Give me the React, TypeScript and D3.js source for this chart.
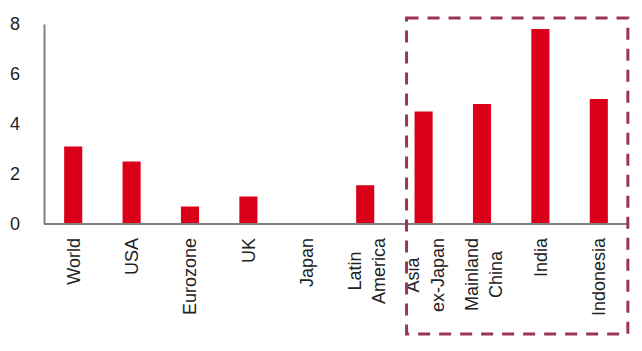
import React, { useRef, useEffect } from "react";
import * as d3 from "d3";

// category labels (one entry per line of the label)
const categories: string[][] = [
  ["World"],
  ["USA"],
  ["Eurozone"],
  ["UK"],
  ["Japan"],
  ["Latin", "America"],
  ["Asia", "ex-Japan"],
  ["Mainland", "China"],
  ["India"],
  ["Indonesia"],
];
const values = [3.1, 2.5, 0.7, 1.1, 0, 1.55, 4.5, 4.8, 7.8, 5.0];
const yTicks = [0, 2, 4, 6, 8];
const highlightFrom = "Asia ex-Japan";
const highlightTo = "Indonesia";

const W = 642;
const H = 351;

const App = () => {
  const svgRef = useRef<SVGSVGElement>(null);

  useEffect(() => {
    const svg = d3.select(svgRef.current);
    svg.selectAll("*").remove();

    const font = "'Liberation Sans', Arial, sans-serif";
    const names = categories.map((c) => c.join(" "));
    const data = names.map((name, i) => ({ name, lines: categories[i], value: values[i] }));

    const x = d3
      .scaleBand()
      .domain(names)
      .range([44, 628])
      .paddingInner(0.69)
      .paddingOuter(0.345);

    const y = d3.scaleLinear().domain([0, 8]).range([224, 24]);

    // bars
    svg
      .append("g")
      .selectAll("rect")
      .data(data)
      .enter()
      .append("rect")
      .attr("x", (d) => x(d.name)!)
      .attr("y", (d) => y(d.value))
      .attr("width", x.bandwidth())
      .attr("height", (d) => y(0) - y(d.value))
      .attr("fill", "#db0019");

    // y axis
    const yAxis = svg
      .append("g")
      .attr("transform", "translate(44,0)")
      .call(d3.axisLeft(y).tickValues(yTicks).tickSize(0).tickPadding(24).tickFormat(d3.format("d")));
    yAxis.select(".domain").attr("stroke", "#808080").attr("stroke-width", 2);
    yAxis
      .selectAll("text")
      .attr("font-family", font)
      .attr("font-size", 18)
      .attr("fill", "#222");

    // x axis line
    svg
      .append("line")
      .attr("x1", 44)
      .attr("x2", 628)
      .attr("y1", y(0))
      .attr("y2", y(0))
      .attr("stroke", "#808080")
      .attr("stroke-width", 2);

    // rotated category labels, top aligned, lines centred in the block
    const lineGap = 24.5;
    const labels = svg
      .append("g")
      .selectAll("g")
      .data(data)
      .enter()
      .append("g")
      .attr("transform", (d) => `translate(${x(d.name)! + x.bandwidth() / 2},238) rotate(-90)`);

    labels.each(function (d) {
      const g = d3.select(this);
      const n = d.lines.length;
      const shift = n > 1 ? 1.5 : 0;
      const texts = d.lines.map((line, i) =>
        g
          .append("text")
          .attr("y", (i - (n - 1) / 2) * lineGap + shift)
          .attr("dy", "0.35em")
          .attr("font-family", font)
          .attr("font-size", 18)
          .attr("fill", "#222")
          .text(line)
      );
      const widths = texts.map((t) => (t.node() as SVGTextElement).getComputedTextLength());
      const maxW = d3.max(widths) || 0;
      texts.forEach((t) => t.attr("x", -maxW / 2).attr("text-anchor", "middle"));
    });

    // dashed highlight box
    const left = x(highlightFrom)! - 8;
    const right = x(highlightTo)! + x.bandwidth() + 20;
    svg
      .append("rect")
      .attr("x", left)
      .attr("y", y(8) - 6)
      .attr("width", right - left)
      .attr("height", 334 - (y(8) - 6))
      .attr("fill", "none")
      .attr("stroke", "#9b3456")
      .attr("stroke-width", 3)
      .attr("stroke-dasharray", "12,9");
  }, []);

  return (
    <svg
      ref={svgRef}
      width={W}
      height={H}
      style={{ position: "absolute", left: 0, top: 0, background: "#fff" }}
    ></svg>
  );
};

export default App;
